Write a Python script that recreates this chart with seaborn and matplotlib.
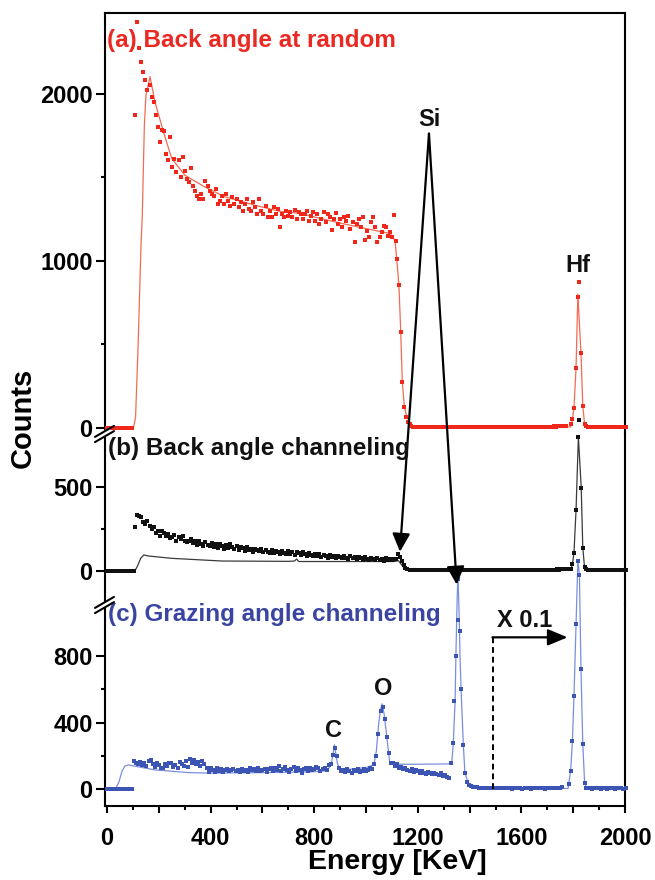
import numpy as np
import pandas as pd
import matplotlib
matplotlib.use("Agg")
import matplotlib.pyplot as plt
import seaborn as sns
from matplotlib.lines import Line2D
from matplotlib.patches import Polygon
from matplotlib.ticker import FixedLocator, FuncFormatter

# ---------------- data (energy in keV, counts) ----------------
STEP = 8
# (a) back angle at random  (red)
a_line_E = [0, 102, 110, 120, 131, 136, 144, 150, 166, 185, 218, 250, 301, 378, 456, 571, 668, 739, 900, 1000,
            1093, 1112, 1119, 1127, 1134, 1140, 1148, 1157, 1176, 1200, 1790, 1797, 1803, 1811, 1818, 1830, 1837,
            1844, 1852, 2000]
a_line_V = [0, 0, 60, 500, 1091, 1272, 1810, 1990, 2102, 1950, 1770, 1611, 1511, 1441, 1382, 1332, 1295, 1285, 1225,
            1192, 1163, 1121, 1003, 853, 574, 275, 126, 66, 16, 5, 5, 50, 120, 360, 800, 445, 130, 20, 5, 5]
a_low_start, a_low = 0, [0, 0, 0, 0, 0, 0, 0, 0, 0, 0, 0, 0, 0]
a_sc_start = 108
a_sc = [1870, 2430, 2275, 2190, 2130, 2080, 2020, 2050, 1980, 1950,
        1875, 1800, 1710, 1780, 1775, 1640, 1600, 1740, 1560, 1610,
        1530, 1605, 1500, 1620, 1540, 1490, 1470, 1555, 1450, 1420,
        1390, 1370, 1400, 1370, 1477, 1450, 1420, 1400, 1390, 1432,
        1340, 1360, 1390, 1340, 1400, 1360, 1330, 1380, 1340, 1370,
        1320, 1350, 1300, 1340, 1370, 1310, 1300, 1350, 1320, 1280,
        1368, 1300, 1280, 1330, 1260, 1300, 1260, 1320, 1280, 1310,
        1202, 1280, 1262, 1300, 1270, 1292, 1260, 1306, 1250, 1290,
        1282, 1250, 1280, 1300, 1240, 1270, 1292, 1240, 1280, 1222,
        1250, 1290, 1230, 1282, 1260, 1182, 1250, 1288, 1220, 1252,
        1200, 1260, 1240, 1270, 1190, 1230, 1112, 1222, 1250, 1200,
        1262, 1122, 1180, 1142, 1232, 1262, 1200, 1112, 1142, 1170,
        1210, 1202, 1150, 1172, 1142, 1276]
a_edge_E = [1115, 1121, 1127, 1134, 1140, 1147, 1154, 1161, 1168, 1175]
a_edge_V = [1118, 1009, 853, 574, 275, 126, 66, 35, 20, 12]
a_mid_start = 1182
a_mid = [6, 5, 4, 6, 5, 3, 5, 6, 4, 5, 7, 5, 4, 6, 5, 5, 4, 6, 5, 3, 5, 6, 4, 5, 6, 5, 4, 6, 5, 5, 4, 6, 7, 5, 4,
         6, 5, 5, 4, 5, 6, 4, 5, 6, 5, 4, 6, 5, 5, 4, 6, 5, 3, 5, 6, 4, 5, 6, 5, 4, 6, 5, 7, 5, 4, 6, 5, 6, 8, 7,
         9, 8, 10, 9, 12]
a_hf_E = [1790, 1797, 1803, 1811, 1817, 1824, 1830, 1837, 1844, 1850]
a_hf_V = [20, 50, 120, 360, 780, 875, 445, 130, 25, 10]
a_tail_start = 1858
a_tail = [6, 5, 4, 6, 5, 5, 4, 6, 5, 4, 5, 6, 5, 4, 6, 5, 5, 4, 5]

# (b) back angle channeling  (black)
b_line_E = [0, 108, 118, 130, 142, 160, 250, 443, 700, 724, 732, 740, 800, 1000, 1110, 1125, 1140, 1150, 1160, 1790,
            1797, 1803, 1811, 1820, 1831, 1837, 1844, 1855, 2000]
b_line_V = [0, 0, 30, 75, 94, 88, 74, 58, 56, 58, 70, 55, 55, 55, 55, 60, 30, 12, 5, 5,
            38, 108, 364, 803, 494, 138, 15, 5, 5]
b_low_start, b_low = 0, [0, 0, 0, 0, 0, 0, 0, 0, 0, 0, 0, 0, 0, 0]
b_sc_start = 108
b_sc = [264, 334, 330, 324, 290, 278, 300, 268, 250, 262,
        224, 240, 210, 236, 224, 206, 218, 196, 204, 214,
        180, 200, 188, 206, 180, 170, 178, 190, 164, 180,
        156, 176, 160, 148, 170, 152, 150, 166, 142, 158,
        138, 160, 146, 130, 152, 136, 158, 140, 130, 148,
        124, 142, 136, 120, 144, 126, 132, 114, 130, 122,
        116, 132, 110, 126, 114, 108, 126, 104, 120, 114,
        100, 120, 106, 98, 116, 102, 112, 96, 110, 104,
        92, 112, 98, 90, 106, 94, 86, 100, 88, 98,
        82, 94, 86, 78, 94, 80, 90, 76, 90, 82,
        74, 88, 76, 70, 86, 74, 82, 68, 80, 74,
        66, 82, 70, 64, 78, 68, 62, 76, 64, 72,
        60, 74, 64, 70, 62, 72]
b_edge_E = [1116, 1124, 1131, 1138, 1145, 1152, 1160, 1168]
b_edge_V = [68, 100, 84, 60, 34, 18, 10, 6]
b_mid_start = 1176
b_mid = [5, 4, 6, 5, 4, 5, 3, 5, 4, 6, 5, 4, 5, 5, 4, 6, 5, 4, 5, 3, 5, 4, 6, 5, 4, 5, 5, 4, 6, 5, 4, 5, 3, 5,
         4, 6, 5, 4, 5, 5, 4, 6, 5, 4, 5, 3, 5, 4, 6, 5, 4, 5, 5, 4, 6, 5, 4, 5, 3, 5, 4, 6, 5, 4, 5, 6, 5, 6,
         7, 6, 8, 7, 9, 8, 10, 9]
b_hf_E = [1790, 1797, 1803, 1811, 1818, 1824, 1831, 1837, 1844, 1850]
b_hf_V = [10, 38, 108, 364, 800, 905, 494, 138, 20, 8]
b_tail_start = 1858
b_tail = [5, 4, 6, 5, 4, 5, 5, 4, 6, 5, 4, 5, 5, 4, 6, 5, 4, 5, 5]

# (c) grazing angle channeling  (blue)
c_line_E = [0, 31, 45, 58, 69, 82, 120, 185, 314, 400, 600, 800, 850, 866, 878, 890, 905, 1000, 1030, 1040,
            1048, 1055, 1062, 1070, 1080, 1091, 1100, 1200, 1324, 1331, 1337, 1344, 1347, 1352, 1355, 1360, 1363,
            1367, 1376, 1382, 1395, 1427, 1480, 1600, 1780, 1790, 1797, 1803, 1811, 1818, 1824, 1830, 1837, 1844,
            1852, 2000]
c_line_V = [0, 0, 40, 110, 140, 146, 135, 116, 100, 97, 100, 105, 112, 150, 266, 150, 115, 130, 146, 230,
            380, 470, 512, 450, 316, 166, 150, 150, 152, 156, 276, 536, 796, 1150, 1290, 1016, 796,
            596, 256, 96, 36, 16, 8, 5, 5, 110, 290, 560, 990, 1370, 1284, 720, 270, 40,
            5, 5]
c_low_start, c_low = 0, [0, 0, 0, 0, 0, 0, 0, 0, 0, 0, 0, 0, 0]
c_sc_start = 104
c_sc = [172, 160, 150, 166, 146, 158, 140, 170, 176, 150,
        136, 160, 144, 130, 126, 150, 138, 160, 156, 134,
        148, 126, 166, 150, 140, 170, 136, 182, 160, 176,
        150, 166, 140, 172, 150, 130, 106, 126, 118, 104,
        126, 112, 120, 104, 116, 122, 108, 116, 124, 110,
        116, 104, 122, 112, 118, 106, 126, 114, 120, 108,
        126, 112, 118, 124, 106, 120, 126, 112, 130, 118,
        140, 110, 124, 132, 116, 106, 124, 134, 110, 128,
        118, 100, 120, 126, 110, 130, 116, 124, 134, 130,
        112, 120, 126, 118, 146, 150, 206, 250, 200, 130,
        110, 118, 106, 122, 112, 100, 116, 108, 120, 104,
        112, 124, 108, 116, 130, 120, 150, 200, 330, 470,
        490, 420, 316, 220, 160, 156, 140, 150, 126, 134,
        120, 130, 116, 110, 124, 104, 116, 112, 98, 108,
        100, 94, 104, 96, 90, 100, 92, 86, 96, 80,
        88, 74, 70]
c_si_E = [1328, 1334, 1341, 1347, 1354, 1357, 1363, 1368, 1375, 1382, 1389, 1396]
c_si_V = [160, 276, 530, 796, 1016, 1260, 946, 600, 266, 96, 45, 25]
c_mid_start = 1404
c_mid = [20, 16, 14, 12, 10, 9, 8, 8, 7, 6, 7, 6, 5, 6, 5, 6, 5, 5, 6, 5, 4, 5, 6, 5, 5, 4, 5, 6, 5, 4, 5, 6,
         5, 5, 6, 5, 4, 5, 6, 5, 6, 7, 8, 10, 12]
c_hf_E = [1784, 1790, 1797, 1803, 1811, 1817, 1824, 1830, 1837, 1844, 1850]
c_hf_V = [30, 110, 290, 560, 990, 1370, 1284, 720, 270, 40, 10]
c_tail_start = 1858
c_tail = [6, 5, 4, 6, 5, 5, 4, 6, 5, 4, 5, 6, 5, 4, 6, 5, 5, 4, 5]


def run(start, vals):
    return start + STEP * np.arange(len(vals)), np.asarray(vals, float)


def dots(parts):
    E, V = [], []
    for e, v in parts:
        E.append(np.asarray(e, float)); V.append(np.asarray(v, float))
    return pd.DataFrame({"E": np.concatenate(E), "V": np.concatenate(V)})


a_dots = dots([run(a_low_start, a_low), run(a_sc_start, a_sc), (a_edge_E, a_edge_V),
               run(a_mid_start, a_mid), (a_hf_E, a_hf_V), run(a_tail_start, a_tail)])
b_dots = dots([run(b_low_start, b_low), run(b_sc_start, b_sc), (b_edge_E, b_edge_V),
               run(b_mid_start, b_mid), (b_hf_E, b_hf_V), run(b_tail_start, b_tail)])
c_dots = dots([run(c_low_start, c_low), run(c_sc_start, c_sc), (c_si_E, c_si_V),
               run(c_mid_start, c_mid), (c_hf_E, c_hf_V), run(c_tail_start, c_tail)])
a_line = pd.DataFrame({"E": a_line_E, "V": a_line_V})
b_line = pd.DataFrame({"E": b_line_E, "V": b_line_V})
c_line = pd.DataFrame({"E": c_line_E, "V": c_line_V})

# ---------------- style ----------------
sns.set_theme(style="white")
plt.rcParams.update({
    "font.family": ["Liberation Sans", "DejaVu Sans"],
    "font.weight": "bold",
    "text.color": "black",
    "axes.labelcolor": "black",
    "axes.linewidth": 1.5,
    "axes.edgecolor": "black",
    "xtick.color": "black", "ytick.color": "black",
    "xtick.labelsize": 17, "ytick.labelsize": 17,
})

RED_DOT, RED_LINE, RED_TXT = "#f0281c", "#f36b52", "#ea2a22"
BLK, BLK_LINE = "#111111", "#3a3a3a"
BLUE_DOT, BLUE_LINE, BLUE_TXT = "#3c55b4", "#7a8fdc", "#3a45a2"

W_PX, H_PX = 655, 880
fig = plt.figure(figsize=(W_PX / 100, H_PX / 100), dpi=100)


def fx(px):
    return px / W_PX


def fy(py):
    return 1 - py / H_PX


L_PX, R_PX = 105, 625
Y_TOP, Y_AB, Y_BC, Y_BOT = 13, 434, 605, 806
S = 0.167  # px per count
ZERO_A, ZERO_B, ZERO_C = 427.7, 570.7, 789.3

ax_a = fig.add_axes([fx(L_PX), fy(Y_AB), fx(R_PX - L_PX), (Y_AB - Y_TOP) / H_PX])
ax_b = fig.add_axes([fx(L_PX), fy(Y_BC), fx(R_PX - L_PX), (Y_BC - Y_AB) / H_PX])
ax_c = fig.add_axes([fx(L_PX), fy(Y_BOT), fx(R_PX - L_PX), (Y_BOT - Y_BC) / H_PX])

panels = [
    (ax_a, a_line, a_dots, RED_LINE, RED_DOT, (ZERO_A, Y_TOP, Y_AB), [0, 1000, 2000], [500, 1500]),
    (ax_b, b_line, b_dots, BLK_LINE, BLK, (ZERO_B, Y_AB, Y_BC), [0, 500], [250]),
    (ax_c, c_line, c_dots, BLUE_LINE, BLUE_DOT, (ZERO_C, Y_BC, Y_BOT), [0, 400, 800], [200, 600]),
]

for ax, line, dd, lc, dc, (z, t, b), maj, mnr in panels:
    sns.lineplot(data=line, x="E", y="V", ax=ax, color=lc, linewidth=0.9, estimator=None,
                 sort=False, legend=False, clip_on=False, zorder=2)
    sns.scatterplot(data=dd, x="E", y="V", ax=ax, color=dc, marker="s", s=8, linewidth=0,
                    legend=False, clip_on=False, zorder=3)
    ax.set_facecolor("none")
    ax.set_xlim(-8, 2000)
    ax.set_ylim((z - b) / S, (z - t) / S)
    ax.set_xlabel("")
    ax.set_ylabel("")
    ax.yaxis.set_major_locator(FixedLocator(maj))
    ax.yaxis.set_minor_locator(FixedLocator(mnr))
    ax.tick_params(axis="y", which="major", direction="out", length=6.5, width=1.5, pad=2.5,
                   left=True, right=False, labelleft=True, labelcolor="black")
    ax.tick_params(axis="y", which="minor", direction="out", length=3.2, width=1.5, left=True, right=False)
    for sp in ax.spines.values():
        sp.set_linewidth(1.5)
        sp.set_color("black")

for ax in (ax_a, ax_b):
    ax.tick_params(axis="x", which="both", bottom=False, top=False, labelbottom=False)
ax_a.spines["bottom"].set_visible(False)
ax_b.spines["top"].set_visible(False)
ax_b.spines["bottom"].set_visible(False)
ax_c.spines["top"].set_visible(False)

ax_c.xaxis.set_major_locator(FixedLocator(list(range(0, 2001, 200))))
ax_c.xaxis.set_minor_locator(FixedLocator(list(range(100, 2000, 200))))
ax_c.xaxis.set_major_formatter(FuncFormatter(lambda v, p: f"{int(v)}" if int(v) % 400 == 0 else ""))
ax_c.tick_params(axis="x", which="major", direction="out", length=5, width=1.5, pad=10, bottom=True, top=False,
                 labelcolor="black")
ax_c.tick_params(axis="x", which="minor", direction="out", length=3, width=1.5, bottom=True, top=False)


# axis breaks
def draw_break(py):
    x0, x1, rise, g = 95, 114, 11, 2.6

    def yy(x, off):
        return py + off + rise / 2 - rise * (x - x0) / (x1 - x0)

    xa, xb = 100, 110
    fig.add_artist(Polygon([(fx(xa), fy(yy(xa, -g))), (fx(xb), fy(yy(xb, -g))),
                            (fx(xb), fy(yy(xb, g))), (fx(xa), fy(yy(xa, g)))],
                           closed=True, transform=fig.transFigure, facecolor="white",
                           edgecolor="none", zorder=5))
    for off in (-g, g):
        fig.add_artist(Line2D([fx(x0), fx(x1)], [fy(yy(x0, off)), fy(yy(x1, off))],
                              transform=fig.transFigure, color="black", lw=1.5, zorder=6))


draw_break(Y_AB)
draw_break(Y_BC)

# titles and labels
FS = 17
fig.text(fx(107), fy(40), "(a) Back angle at random", color=RED_TXT, fontsize=17.5, fontweight="bold",
         ha="left", va="center")
fig.text(fx(108), fy(448), "(b) Back angle channeling", color=BLK, fontsize=17.5, fontweight="bold",
         ha="left", va="center")
fig.text(fx(108), fy(615), "(c) Grazing angle channeling", color=BLUE_TXT, fontsize=17.5, fontweight="bold",
         ha="left", va="center")
fig.text(fx(429), fy(120), "Si", fontsize=FS, fontweight="bold", ha="center", va="center", color=BLK)
fig.text(fx(578), fy(265), "Hf", fontsize=FS, fontweight="bold", ha="center", va="center", color=BLK)
fig.text(fx(333), fy(730), "C", fontsize=FS, fontweight="bold", ha="center", va="center", color=BLK)
fig.text(fx(383), fy(688), "O", fontsize=FS, fontweight="bold", ha="center", va="center", color=BLK)
fig.text(fx(525), fy(620), "X 0.1", fontsize=FS, fontweight="bold", ha="center", va="center", color=BLK)
fig.text(fx(23), fy(418), "Counts", fontsize=21, fontweight="bold", ha="center", va="center", rotation=90,
         color="black")
fig.text(fx(397), fy(862), "Energy [KeV]", fontsize=20.5, fontweight="bold", ha="center", va="center",
         color="black")

# Si arrows
head = "-|>,head_length=0.55,head_width=0.27"
ax_c.annotate("", xy=(1131, 114), xycoords=ax_b.transData, xytext=(1243, 1761), textcoords=ax_a.transData,
              arrowprops=dict(arrowstyle=head, color="black", lw=1.6, shrinkA=0, shrinkB=0, mutation_scale=20),
              annotation_clip=False)
ax_c.annotate("", xy=(1350, 1226), xycoords=ax_c.transData, xytext=(1243, 1761), textcoords=ax_a.transData,
              arrowprops=dict(arrowstyle=head, color="black", lw=1.6, shrinkA=0, shrinkB=0, mutation_scale=20),
              annotation_clip=False)

# X 0.1 marker
ax_c.plot([1490, 1490], [0, 908], color="black", lw=1.4, ls=(0, (3, 2)), clip_on=False, zorder=4)
ax_c.annotate("", xy=(1778, 910), xytext=(1488, 910),
              arrowprops=dict(arrowstyle="-|>,head_length=0.6,head_width=0.25", color="black", lw=1.6,
                              shrinkA=0, shrinkB=0, mutation_scale=20), annotation_clip=False)

fig.savefig("out.png", dpi=100)
